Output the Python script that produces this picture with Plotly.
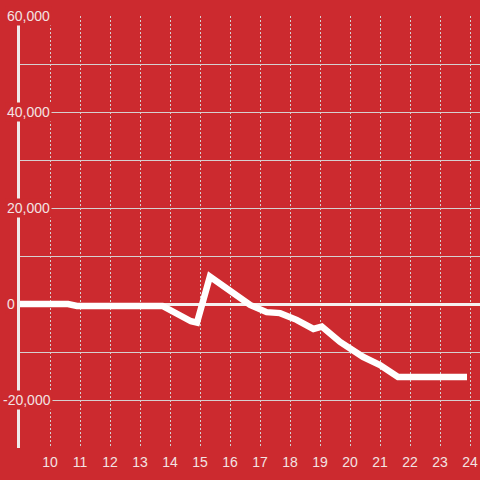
import plotly.graph_objects as go

# Data
x_vals = [9.0, 10.6, 10.9, 13.75, 14.7, 14.9, 15.33, 15.67, 16.2, 16.67, 17.22, 17.67,
          18.22, 18.78, 19.06, 19.67, 20.43, 21.0, 21.6, 22.67, 23.9]
y_vals = [0, 0, -400, -400, -3600, -3900, 5700, 4200, 2000, -200, -1700, -1900,
          -3300, -5200, -4700, -7900, -11000, -12700, -15200, -15200, -15200]

x_ticks = list(range(10, 25))
y_tick_vals = [60000, 40000, 20000, 0, -20000]
y_tick_text = ["60,000", "40,000", "20,000", "0", "-20,000"]

BG = "#CC2A2F"
TXT = "#F3E3E3"
GRID = "#D6D0D0"

fig = go.Figure()
fig.add_trace(go.Scatter(x=x_vals, y=y_vals, mode="lines",
                         line=dict(color="white", width=6.5), hoverinfo="skip"))

fig.update_layout(
    width=480, height=480,
    margin=dict(l=20, r=0, t=16, b=32),
    paper_bgcolor=BG, plot_bgcolor=BG,
    showlegend=False,
    font=dict(family="Liberation Sans, Arial, sans-serif", size=14, color=TXT),
)
fig.update_xaxes(range=[9, 24.333], tickvals=x_ticks, showgrid=True,
                 gridcolor=GRID, gridwidth=1, griddash="2px,2px",
                 zeroline=False, showline=False, ticks="",
                 ticklabelstandoff=4,
                 tickfont=dict(size=14, color=TXT))
fig.update_yaxes(range=[-30000, 60000], dtick=10000, showgrid=True,
                 gridcolor=GRID, gridwidth=1, showticklabels=False,
                 zeroline=True, zerolinecolor="#F5F0F0", zerolinewidth=3,
                 showline=True, linecolor="#F0EAEA", linewidth=3, ticks="")

for v, t in zip(y_tick_vals, y_tick_text):
    fig.add_annotation(x=0, xref="paper", y=v, yref="y", text=t, showarrow=False,
                       xanchor="left", yanchor="middle",
                       xshift=-19 if t.startswith("-") else -15,
                       bgcolor=BG, borderpad=1,
                       font=dict(size=14, color=TXT))

fig.write_html("out.html", config={"displayModeBar": False},
               post_script="document.body.style.margin='0';document.body.style.overflow='hidden';")
